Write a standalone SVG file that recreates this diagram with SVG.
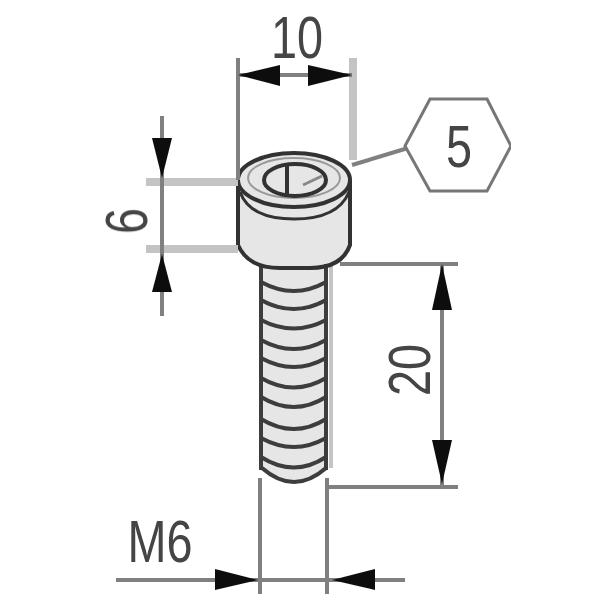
<svg xmlns="http://www.w3.org/2000/svg" width="600" height="600" viewBox="0 0 600 600">
<style>
.d{fill:none;stroke:#808080;stroke-width:4}
.e{fill:none;stroke:#c4c4c4;stroke-width:8}
.a{fill:#111}
.o{fill:none;stroke:#333;stroke-width:4}
.t{fill:none;stroke:#3c3c3c;stroke-width:4}
.x{font-family:"Liberation Sans",Arial,sans-serif;font-size:60px;fill:#444;text-anchor:middle}
</style>
<defs><filter id="soft" x="0" y="0" width="100%" height="100%"><feGaussianBlur stdDeviation="0.7"/></filter></defs>
<rect width="600" height="600" fill="#fff"/>
<g filter="url(#soft)">
<g id="bolt">
<path d="M261 262H327V470Q294 496 261 470Z" fill="#e6e6e6"/>
<path d="M238 180A56 28 0 0 1 351 180V245Q340 268 310 268H280Q250 268 238 245Z" fill="#e6e6e6"/>
<path d="M331 264V468" fill="none" stroke="#c4c4c4" stroke-width="4"/>
<g class="t">
<path d="M261 264V470"/><path d="M326 264V470"/>
<path d="M261 282Q294 300 326 282" transform="translate(0 0)"/>
<path d="M261 300Q294 318 326 300"/>
<path d="M261 320Q294 337 326 320"/>
<path d="M261 340Q294 358 326 340"/>
<path d="M261 358Q294 376 326 358"/>
<path d="M261 378Q294 397 326 378"/>
<path d="M261 397Q294 417 326 397"/>
<path d="M261 419Q294 439 326 419"/>
<path d="M261 438Q294 456 326 438"/>
<path d="M261 457Q294 478 326 457"/>
<path d="M262 468Q294 496 326 468"/>
</g>
<g class="o">
<path d="M238 180V245Q248 268 280 268H310Q342 268 350 245V180"/>
<ellipse cx="294" cy="180" rx="56" ry="27"/>
<path d="M240 192Q250 219 294 219T349 192" stroke-width="3"/>
<ellipse cx="294" cy="178" rx="46" ry="20" stroke="#999" stroke-width="2"/>
<ellipse cx="295" cy="180" rx="31" ry="16" stroke-width="4"/>
<path d="M287 163V194" stroke-width="4"/>
<path d="M303 185L322 176" stroke="#888" stroke-width="3"/>
</g>
</g>
<g id="connectors">
<path class="e" d="M146 182H238M146 249H238"/>
<path class="d" d="M238 58V180"/>
<path class="e" d="M353 58V160"/>
<path class="d" d="M238 75H352" stroke="#c0c0c0"/>
<path class="d" d="M162 116V316"/>
<path class="d" d="M340 264H458M328 487H458"/>
<path class="d" d="M442 264V487"/>
<path class="d" d="M260 478V594M327 478V594"/>
<path class="d" d="M116 580H405"/>
<path class="d" d="M352 165L408 148" stroke-width="3"/>
<polygon class="a" points="238,75 280,65 280,86"/>
<polygon class="a" points="352,75 308,65 308,86"/>
<polygon class="a" points="162,178 152,138 172,138"/>
<polygon class="a" points="162,254 152,292 172,292"/>
<polygon class="a" points="442,264 432,310 452,310"/>
<polygon class="a" points="442,484 432,440 452,440"/>
<polygon class="a" points="258,580 215,569 215,590"/>
<polygon class="a" points="332,580 375,569 375,590"/>
</g>
<g id="hex">
<polygon points="405,146 430,99 487,99 511,146 487,191 430,191" fill="#fff" stroke="#777" stroke-width="3"/>
<text class="x" transform="translate(459 167) scale(0.78 1)">5</text>
</g>
<text class="x" transform="translate(297 58) scale(0.78 1)">10</text>
<text class="x" transform="translate(160 562) scale(0.78 1)">M6</text>
<text class="x" transform="translate(147 221) rotate(-90) scale(0.78 1)">6</text>
<text class="x" transform="translate(430 370) rotate(-90) scale(0.78 1)">20</text>
</g>
</svg>
